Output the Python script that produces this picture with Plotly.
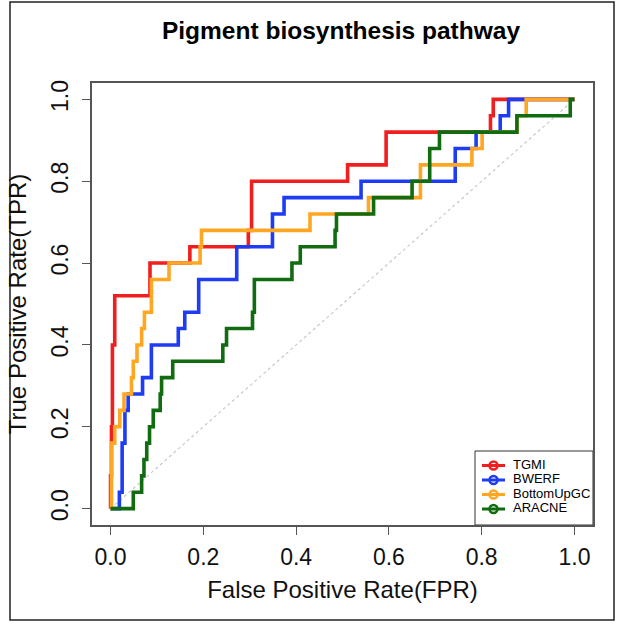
import plotly.graph_objects as go

# ---------------- data ----------------
tgmi_fpr = [0, 0, 0.002, 0.002, 0.004, 0.004, 0.009, 0.009, 0.085, 0.085, 0.171, 0.171, 0.297, 0.297, 0.304, 0.304,
            0.511, 0.511, 0.594, 0.594, 0.819, 0.819, 0.825, 0.825, 1.0]
tgmi_tpr = [0, 0.08, 0.08, 0.20, 0.20, 0.40, 0.40, 0.52, 0.52, 0.60, 0.60, 0.64, 0.64, 0.68, 0.68, 0.80,
            0.80, 0.84, 0.84, 0.92, 0.92, 0.96, 0.96, 1.0, 1.0]

bwerf_fpr = [0, 0.019, 0.019, 0.025, 0.025, 0.031, 0.031, 0.038, 0.038, 0.069, 0.069, 0.088, 0.088, 0.146, 0.146,
             0.160, 0.160, 0.190, 0.190, 0.272, 0.272, 0.349, 0.349, 0.374, 0.374, 0.540, 0.540, 0.743, 0.743,
             0.788, 0.788, 0.840, 0.840, 0.858, 0.858, 1.0]
bwerf_tpr = [0, 0, 0.04, 0.04, 0.16, 0.16, 0.24, 0.24, 0.28, 0.28, 0.32, 0.32, 0.40, 0.40, 0.44,
             0.44, 0.48, 0.48, 0.56, 0.56, 0.64, 0.64, 0.72, 0.72, 0.76, 0.76, 0.80, 0.80, 0.88,
             0.88, 0.92, 0.92, 0.96, 0.96, 1.0, 1.0]

bugc_fpr = [0, 0.002, 0.002, 0.009, 0.009, 0.020, 0.020, 0.029, 0.029, 0.045, 0.045, 0.049, 0.049, 0.057, 0.057,
            0.067, 0.067, 0.073, 0.073, 0.088, 0.088, 0.126, 0.126, 0.193, 0.193, 0.196, 0.196, 0.430, 0.430,
            0.556, 0.556, 0.668, 0.668, 0.779, 0.779, 0.801, 0.801, 0.876, 0.876, 0.896, 0.896, 1.0]
bugc_tpr = [0, 0, 0.16, 0.16, 0.20, 0.20, 0.24, 0.24, 0.28, 0.28, 0.32, 0.32, 0.36, 0.36, 0.40,
            0.40, 0.44, 0.44, 0.48, 0.48, 0.56, 0.56, 0.60, 0.60, 0.64, 0.64, 0.68, 0.68, 0.72,
            0.72, 0.76, 0.76, 0.84, 0.84, 0.88, 0.88, 0.92, 0.92, 0.96, 0.96, 1.0, 1.0]

aracne_fpr = [0, 0.049, 0.049, 0.067, 0.067, 0.072, 0.072, 0.078, 0.078, 0.084, 0.084, 0.092, 0.092, 0.107, 0.107,
              0.110, 0.110, 0.134, 0.134, 0.242, 0.242, 0.250, 0.250, 0.306, 0.306, 0.310, 0.310, 0.391, 0.391,
              0.409, 0.409, 0.484, 0.484, 0.487, 0.487, 0.567, 0.567, 0.650, 0.650, 0.688, 0.688, 0.709, 0.709,
              0.876, 0.876, 0.991, 0.991, 1.0]
aracne_tpr = [0, 0, 0.04, 0.04, 0.08, 0.08, 0.12, 0.12, 0.16, 0.16, 0.20, 0.20, 0.24, 0.24, 0.28,
              0.28, 0.32, 0.32, 0.36, 0.36, 0.40, 0.40, 0.44, 0.44, 0.48, 0.48, 0.56, 0.56, 0.60,
              0.60, 0.64, 0.64, 0.68, 0.68, 0.72, 0.72, 0.76, 0.76, 0.80, 0.80, 0.88, 0.88, 0.92,
              0.92, 0.96, 0.96, 1.0, 1.0]

method_names = ["TGMI", "BWERF", "BottomUpGC", "ARACNE"]
method_colors = ["#f01e1e", "#1f3cf5", "#ffa623", "#116b11"]
tick_vals = [0, 0.2, 0.4, 0.6, 0.8, 1.0]
tick_text = ["0.0", "0.2", "0.4", "0.6", "0.8", "1.0"]

# ---------------- layout geometry ----------------
W, H = 623, 625
ML, MR, MT, MB = 92, 30, 83, 100
PW, PH = W - ML - MR, H - MT - MB
XR = [-0.04, 1.04]
YR = [-0.04, 1.04]
FONT = "Liberation Sans, Arial, Helvetica, sans-serif"


def px_to_x(px):
    return XR[0] + (px - ML) / PW * (XR[1] - XR[0])


def py_to_y(py):
    return YR[1] - (py - MT) / PH * (YR[1] - YR[0])


def px_to_paper(px):
    return (px - ML) / PW


def py_to_paper(py):
    return (H - MB - py) / PH


fig = go.Figure()

# diagonal reference
fig.add_trace(go.Scatter(x=[0, 1], y=[0, 1], mode="lines",
                         line=dict(color="#c8c8c8", width=1.2, dash="dot"),
                         showlegend=False, hoverinfo="skip"))

series = [(tgmi_fpr, tgmi_tpr), (bwerf_fpr, bwerf_tpr), (bugc_fpr, bugc_tpr), (aracne_fpr, aracne_tpr)]
for (fx, ty), name, col in zip(series, method_names, method_colors):
    fig.add_trace(go.Scatter(x=fx, y=ty, mode="lines", name=name,
                             line=dict(color=col, width=3.6), showlegend=False))

# ---------------- manual legend (bottom-right, clipped by plot box) ----------------
leg_left_px, leg_top_px = 475, 451
entry_y_px = [465.5, 480.0, 494.5, 509.0]
line_x0_px, line_x1_px, mark_px, text_px = 482, 505, 493.5, 513

fig.add_shape(type="rect", xref="paper", yref="paper",
              x0=px_to_paper(leg_left_px), x1=1.0, y0=0.0, y1=py_to_paper(leg_top_px),
              line=dict(color="#333333", width=1), fillcolor="white", layer="below")

for name, col, ypx in zip(method_names, method_colors, entry_y_px):
    yy = py_to_y(ypx)
    fig.add_trace(go.Scatter(x=[px_to_x(line_x0_px), px_to_x(line_x1_px)], y=[yy, yy], mode="lines",
                             line=dict(color=col, width=3), showlegend=False, hoverinfo="skip"))
    fig.add_trace(go.Scatter(x=[px_to_x(mark_px)], y=[yy], mode="markers",
                             marker=dict(symbol="circle-open", size=8, color=col, line=dict(width=2.5)),
                             showlegend=False, hoverinfo="skip"))
    fig.add_trace(go.Scatter(x=[px_to_x(text_px)], y=[yy], mode="text", text=[name],
                             textposition="middle right", cliponaxis=True,
                             textfont=dict(family=FONT, size=13, color="black"),
                             showlegend=False, hoverinfo="skip"))

# outer frame of the figure
fig.add_shape(type="rect", xref="paper", yref="paper",
              x0=px_to_paper(10), x1=px_to_paper(614), y0=py_to_paper(620), y1=py_to_paper(2),
              line=dict(color="#222222", width=1.5), fillcolor="rgba(0,0,0,0)")

axis_common = dict(showgrid=False, zeroline=False, showline=True, mirror=True,
                   linecolor="#555555", linewidth=1.5, ticks="outside", ticklen=8,
                   tickwidth=1.2, tickcolor="#555555", tickvals=tick_vals, ticktext=tick_text,
                   tickfont=dict(family=FONT, size=23, color="#111111"))

fig.update_layout(
    width=W, height=H,
    margin=dict(l=ML, r=MR, t=MT, b=MB, autoexpand=False),
    paper_bgcolor="white", plot_bgcolor="white",
    title=dict(text="<b>Pigment biosynthesis pathway</b>", x=341 / W,
               xanchor="center", y=1 - 30 / H, yanchor="middle",
               font=dict(family=FONT, size=24.5, color="black")),
    xaxis=dict(range=XR, **axis_common, ticklabelstandoff=3,
               title=dict(text="False Positive Rate(FPR)", standoff=12,
                          font=dict(family=FONT, size=24, color="#111111"))),
    yaxis=dict(range=YR, **axis_common, tickangle=-90, ticklabelstandoff=5,
               title=dict(text="True Positive Rate(TPR)", standoff=14,
                          font=dict(family=FONT, size=24, color="#111111"))),
    showlegend=False,
)

fig.write_html("out.html")
